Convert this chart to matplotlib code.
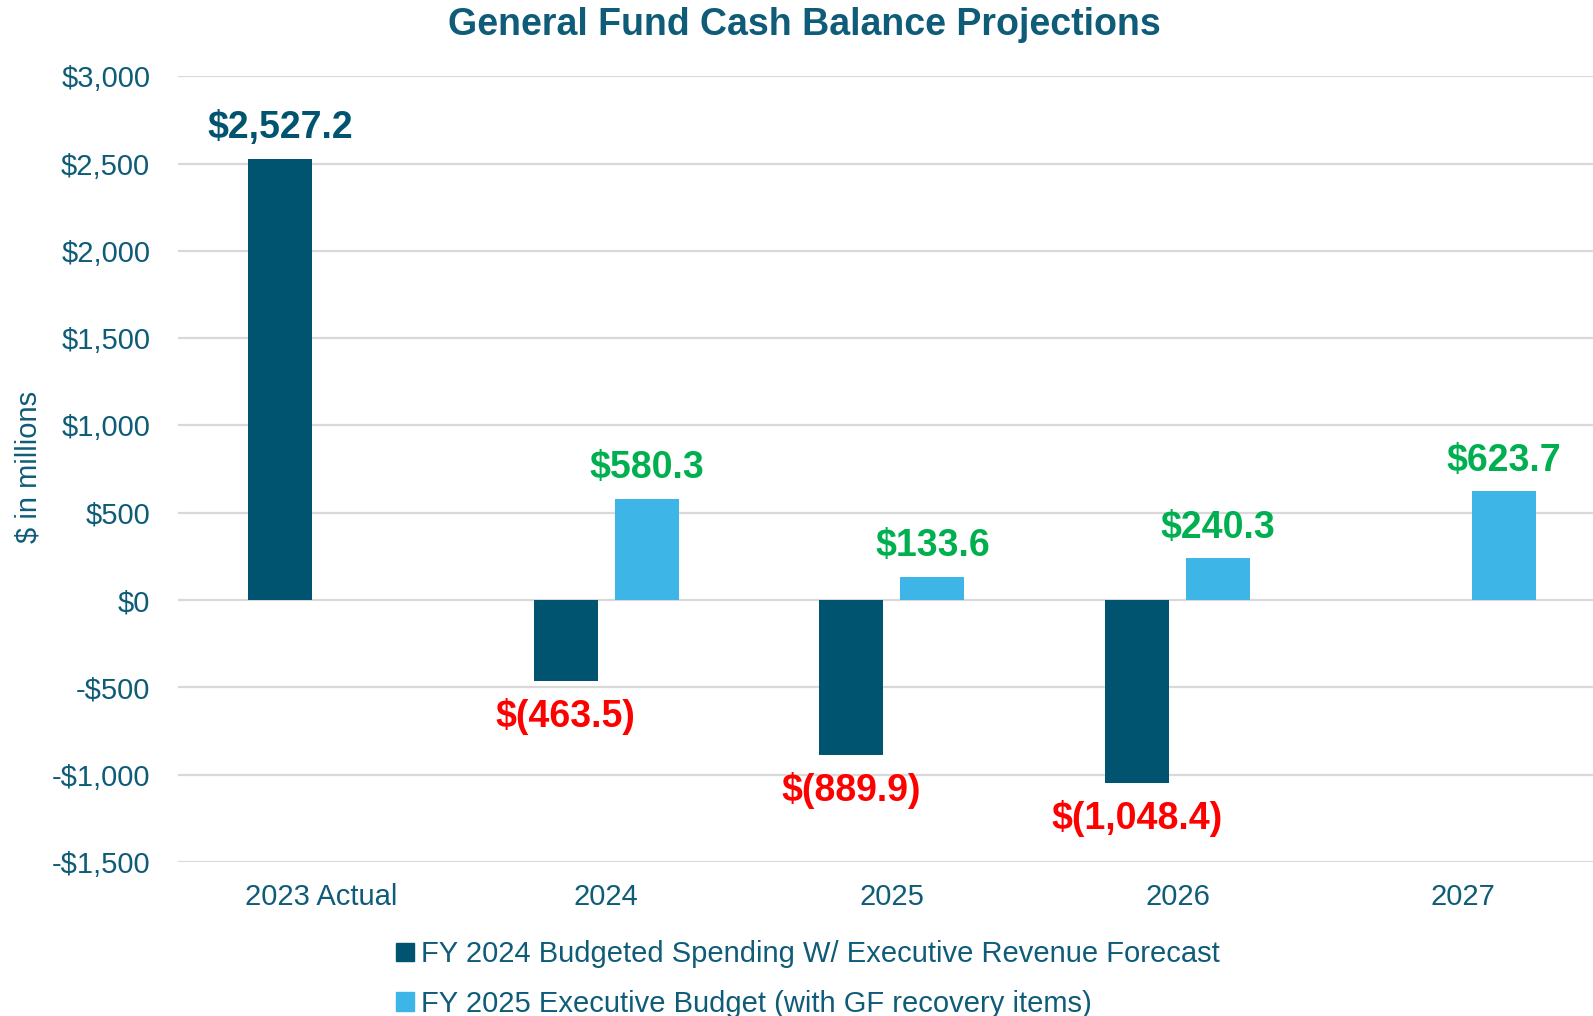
import matplotlib.pyplot as plt
import numpy as np
from matplotlib.patches import Patch

plt.rcParams['font.family'] = ['Liberation Sans', 'DejaVu Sans']

categories = ["2023 Actual", "2024", "2025", "2026", "2027"]
fy2024_budgeted = [2527.2, -463.5, -889.9, -1048.4, np.nan]
fy2025_exec = [np.nan, 580.3, 133.6, 240.3, 623.7]
series_names = ["FY 2024 Budgeted Spending W/ Executive Revenue Forecast",
                "FY 2025 Executive Budget (with GF recovery items)"]

dark = "#00546F"
light = "#3DB5E6"
green = "#00B050"
red = "#FF0000"
txt = "#0F5C78"

def money(v):
    if v < 0:
        return "$({:,.1f})".format(-v)
    return "${:,.1f}".format(v)

def tick_fmt(v):
    if v < 0:
        return "-${:,.0f}".format(-v)
    return "${:,.0f}".format(v)

fig = plt.figure(figsize=(15.93, 10.16), dpi=100)
ax = fig.add_axes([0.1117, 0.1516, 0.8883, 0.7734])

x = np.arange(len(categories))
w = 0.224
off = 0.142

ax.bar(x - off, fy2024_budgeted, w, color=dark, zorder=3)
ax.bar(x + off, fy2025_exec, w, color=light, zorder=3)

# data labels
for xi, v in zip(x - off, fy2024_budgeted):
    if np.isnan(v):
        continue
    if v >= 0:
        ax.annotate(money(v), (xi, v), xytext=(0, 9), textcoords="offset points",
                    ha="center", va="bottom", fontsize=27, fontweight="bold", color=dark)
    else:
        ax.annotate(money(v), (xi, v), xytext=(0, -12), textcoords="offset points",
                    ha="center", va="top", fontsize=27, fontweight="bold", color=red)
for xi, v in zip(x + off, fy2025_exec):
    if np.isnan(v):
        continue
    ax.annotate(money(v), (xi, v), xytext=(0, 9), textcoords="offset points",
                ha="center", va="bottom", fontsize=27, fontweight="bold", color=green)

ax.set_xlim(-0.5, 4.455)
ax.set_ylim(-1500, 3000)
yt = np.arange(-1500, 3001, 500)
ax.set_yticks(yt)
ax.set_yticklabels([tick_fmt(v) for v in yt])
ax.set_xticks(x)
ax.set_xticklabels(categories)
ax.tick_params(axis="both", length=0, labelsize=21, labelcolor=txt)
ax.tick_params(axis="y", pad=20)
ax.tick_params(axis="x", pad=15)
ax.grid(axis="y", color="#D9D9D9", linewidth=1.6, zorder=0)
for s in ax.spines.values():
    s.set_visible(False)

fig.text(0.018, 0.54, "$ in millions", rotation=90, ha="center", va="center",
         fontsize=21, color=txt)
fig.text(0.505, 0.975, "General Fund Cash Balance Projections", ha="center", va="center",
         fontsize=27, fontweight="bold", color=txt)

handles = [Patch(color=dark), Patch(color=light)]
fig.legend(handles, series_names, loc="upper left", bbox_to_anchor=(0.2395, 0.089),
           frameon=False, fontsize=21, labelcolor=txt, handlelength=0.6, handleheight=0.6,
           handletextpad=0.25, labelspacing=0.75, borderpad=0)

fig.savefig("out.png", dpi=100)
